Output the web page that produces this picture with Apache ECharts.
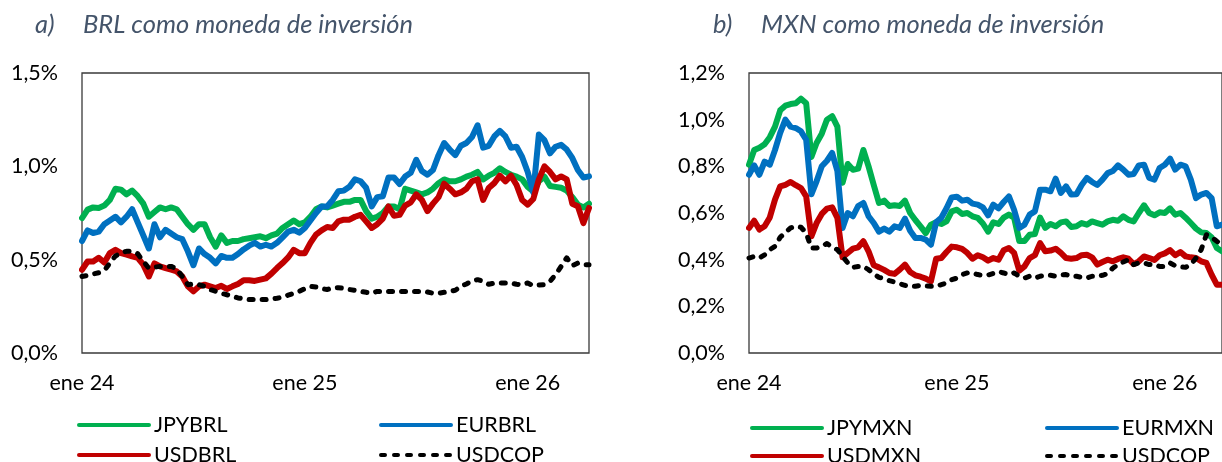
<!DOCTYPE html>
<html><head><meta charset="utf-8">
<script src="https://cdn.jsdelivr.net/npm/echarts@6/dist/echarts.min.js"></script>
<style>html,body{margin:0;padding:0;background:#fff}#c{width:1222px;height:462px}</style>
</head><body><div id="c"></div>
<script>
// Samples are spaced 1/40 of a year apart, starting January 2024.
const stepsPerYear = 40;
const yearLabels = ['ene 24', 'ene 25', 'ene 26'];

// a) BRL como moneda de inversión (%)
const jpybrl = [0.723,0.768,0.78,0.777,0.79,0.82,0.88,0.875,0.85,0.87,
 0.84,0.80,0.73,0.755,0.78,0.77,0.78,0.77,0.73,0.69,
 0.66,0.69,0.69,0.62,0.57,0.63,0.59,0.60,0.60,0.61,
 0.615,0.62,0.625,0.615,0.63,0.64,0.67,0.69,0.71,0.69,
 0.70,0.73,0.77,0.785,0.78,0.79,0.80,0.81,0.81,0.82,
 0.82,0.76,0.72,0.73,0.75,0.785,0.785,0.77,0.88,0.87,
 0.86,0.85,0.86,0.88,0.91,0.93,0.92,0.92,0.93,0.945,
 0.955,0.97,0.93,0.95,0.965,0.99,0.97,0.955,0.945,0.93,
 0.89,0.865,0.92,0.945,0.895,0.89,0.885,0.87,0.835,0.795,
 0.78,0.80];
const eurbrl = [0.60,0.657,0.643,0.65,0.69,0.71,0.73,0.70,0.73,0.77,
 0.70,0.63,0.56,0.69,0.62,0.66,0.64,0.62,0.61,0.545,
 0.47,0.56,0.53,0.51,0.48,0.52,0.51,0.51,0.53,0.555,
 0.575,0.59,0.57,0.58,0.57,0.59,0.62,0.65,0.66,0.645,
 0.67,0.71,0.75,0.785,0.785,0.82,0.866,0.87,0.89,0.93,
 0.92,0.885,0.785,0.835,0.84,0.94,0.94,0.905,0.945,0.965,
 1.035,0.975,0.955,0.98,1.06,1.125,1.09,1.06,1.11,1.125,
 1.157,1.22,1.10,1.11,1.16,1.19,1.16,1.10,1.105,1.05,
 0.97,0.86,1.17,1.14,1.07,1.105,1.115,1.09,1.045,0.98,
 0.94,0.946];
const usdbrl = [0.446,0.49,0.49,0.51,0.485,0.535,0.553,0.535,0.527,0.518,
 0.51,0.473,0.41,0.48,0.464,0.455,0.446,0.437,0.41,0.357,
 0.33,0.357,0.366,0.357,0.348,0.36,0.343,0.357,0.37,0.39,
 0.39,0.386,0.393,0.40,0.425,0.455,0.482,0.512,0.553,0.535,
 0.535,0.59,0.634,0.657,0.675,0.67,0.705,0.714,0.714,0.73,
 0.74,0.705,0.67,0.69,0.72,0.785,0.735,0.74,0.79,0.807,
 0.85,0.82,0.76,0.80,0.835,0.907,0.88,0.85,0.86,0.88,
 0.92,0.93,0.82,0.884,0.91,0.95,0.92,0.95,0.90,0.82,
 0.795,0.825,0.93,1.00,0.97,0.93,0.946,0.93,0.80,0.786,
 0.696,0.777];
const usdcopA = [0.41,0.416,0.423,0.43,0.443,0.48,0.52,0.535,0.545,0.545,
 0.532,0.49,0.455,0.46,0.464,0.464,0.464,0.45,0.41,0.366,
 0.37,0.366,0.357,0.34,0.33,0.32,0.312,0.304,0.295,0.29,
 0.286,0.286,0.286,0.286,0.29,0.293,0.30,0.31,0.32,0.33,
 0.345,0.357,0.354,0.345,0.34,0.348,0.35,0.346,0.34,0.336,
 0.33,0.325,0.32,0.33,0.33,0.33,0.33,0.33,0.33,0.33,
 0.33,0.33,0.327,0.32,0.32,0.325,0.33,0.336,0.357,0.37,
 0.386,0.393,0.384,0.368,0.375,0.375,0.375,0.375,0.368,0.366,
 0.375,0.36,0.364,0.366,0.384,0.42,0.464,0.51,0.468,0.482,
 0.473,0.473];

// b) MXN como moneda de inversión (%)
const jpymxn = [0.807,0.87,0.88,0.895,0.925,0.97,1.04,1.06,1.067,1.07,
 1.09,1.07,0.84,0.90,0.94,1.00,1.015,0.97,0.73,0.81,
 0.785,0.79,0.87,0.80,0.72,0.643,0.653,0.63,0.633,0.63,
 0.653,0.60,0.57,0.543,0.514,0.55,0.56,0.553,0.564,0.607,
 0.614,0.596,0.60,0.586,0.579,0.555,0.52,0.56,0.553,0.58,
 0.593,0.58,0.48,0.48,0.507,0.51,0.58,0.536,0.553,0.543,
 0.56,0.564,0.54,0.543,0.557,0.55,0.564,0.557,0.55,0.564,
 0.571,0.567,0.586,0.571,0.564,0.60,0.633,0.60,0.59,0.603,
 0.60,0.62,0.593,0.60,0.58,0.557,0.533,0.517,0.514,0.496,
 0.45,0.436];
const eurmxn = [0.764,0.804,0.764,0.82,0.807,0.87,0.943,1.0,0.97,0.964,
 0.95,0.914,0.68,0.736,0.80,0.824,0.857,0.78,0.536,0.60,
 0.586,0.63,0.643,0.586,0.557,0.52,0.533,0.52,0.543,0.536,
 0.576,0.524,0.493,0.493,0.486,0.464,0.56,0.58,0.62,0.667,
 0.67,0.653,0.657,0.64,0.636,0.624,0.59,0.636,0.62,0.647,
 0.671,0.614,0.536,0.55,0.593,0.607,0.70,0.70,0.693,0.747,
 0.686,0.714,0.679,0.68,0.72,0.75,0.733,0.72,0.743,0.771,
 0.78,0.804,0.786,0.764,0.767,0.804,0.807,0.75,0.743,0.793,
 0.807,0.833,0.786,0.807,0.80,0.743,0.664,0.679,0.686,0.664,
 0.543,0.55];
const usdmxn = [0.536,0.567,0.529,0.543,0.581,0.657,0.714,0.721,0.733,0.719,
 0.707,0.671,0.50,0.557,0.596,0.619,0.624,0.579,0.41,0.429,
 0.447,0.453,0.479,0.436,0.376,0.367,0.356,0.343,0.339,0.357,
 0.379,0.347,0.333,0.327,0.319,0.307,0.404,0.407,0.433,0.456,
 0.453,0.446,0.429,0.404,0.419,0.41,0.396,0.407,0.40,0.44,
 0.45,0.429,0.353,0.371,0.407,0.419,0.471,0.436,0.439,0.447,
 0.429,0.407,0.404,0.407,0.419,0.421,0.41,0.379,0.39,0.40,
 0.393,0.403,0.41,0.404,0.381,0.393,0.414,0.407,0.399,0.419,
 0.427,0.441,0.419,0.433,0.414,0.41,0.407,0.393,0.386,0.336,
 0.293,0.293];
const usdcopB = [0.407,0.414,0.407,0.421,0.443,0.457,0.496,0.517,0.536,0.543,
 0.539,0.514,0.45,0.45,0.457,0.469,0.453,0.443,0.414,0.386,
 0.367,0.371,0.371,0.357,0.339,0.324,0.319,0.31,0.304,0.297,
 0.29,0.286,0.286,0.29,0.287,0.286,0.286,0.293,0.30,0.314,
 0.321,0.336,0.343,0.343,0.336,0.333,0.334,0.341,0.349,0.343,
 0.336,0.343,0.329,0.321,0.329,0.321,0.329,0.333,0.333,0.329,
 0.334,0.336,0.329,0.329,0.324,0.321,0.329,0.329,0.333,0.34,
 0.364,0.379,0.39,0.40,0.379,0.386,0.386,0.379,0.379,0.371,
 0.371,0.386,0.374,0.369,0.367,0.379,0.407,0.443,0.507,0.496,
 0.479,0.464];

const GREEN = '#00B050', BLUE = '#0070C0', RED = '#C00000', BLACK = '#000000';
const FONT = 'Lato, "Open Sans", sans-serif';
const TITLE_COLOR = '#44546A';
const LABEL_SIZE = 21.5;
const LINE_WIDTH = 6;

const xMax = (jpybrl.length - 1) / stepsPerYear;
const pairs = arr => arr.map((v, i) => [i / stepsPerYear, v]);
const pct = v => v.toFixed(1).replace('.', ',') + '%';

function xAxis(gridIndex) {
  return {
    type: 'value', gridIndex, min: 0, max: xMax, interval: 1,
    axisLine: { show: false }, axisTick: { show: false }, splitLine: { show: false },
    axisLabel: {
      margin: 19, fontSize: LABEL_SIZE, fontFamily: FONT, color: '#000',
      showMaxLabel: false,
      formatter: v => yearLabels[Math.round(v)] || ''
    }
  };
}
function yAxis(gridIndex, max, interval) {
  return {
    type: 'value', gridIndex, min: 0, max, interval,
    axisLine: { show: false }, axisTick: { show: false }, splitLine: { show: false },
    axisLabel: { margin: 24, fontSize: LABEL_SIZE, fontFamily: FONT, color: '#000', formatter: pct }
  };
}
function line(name, data, color, idx, dashed) {
  return {
    name, type: 'line', xAxisIndex: idx, yAxisIndex: idx,
    data: pairs(data), symbol: 'none', showSymbol: false, silent: true, animation: false,
    emphasis: { disabled: true },
    lineStyle: { color, width: dashed ? 5 : LINE_WIDTH, type: dashed ? [4, 9] : 'solid',
                 cap: 'round', join: 'round', opacity: 1 },
    itemStyle: { color }
  };
}
function legendItem(name, left, top) {
  return {
    data: [name], left, top, itemWidth: 70, itemHeight: 14, itemGap: 0,
    selectedMode: false,
    itemStyle: { opacity: 0 },
    lineStyle: { width: 4 },
    textStyle: { fontSize: LABEL_SIZE, fontFamily: FONT, color: '#000' }
  };
}
function titleText(x, label, text) {
  const style = { fontSize: 25.5, fontStyle: 'italic', fontFamily: FONT, fill: TITLE_COLOR, verticalAlign: 'middle' };
  return [
    { type: 'text', x: x, y: 25, style: Object.assign({ text: label }, style) },
    { type: 'text', x: x + 48, y: 25, style: Object.assign({ text }, style) }
  ];
}

const chart = echarts.init(document.getElementById('c'), null, { renderer: 'canvas' });
chart.setOption({
  backgroundColor: '#fff',
  animation: false,
  grid: [
    { left: 82, top: 73, width: 507, height: 280, show: true, borderColor: '#3a3a3a', borderWidth: 1.3 },
    { left: 749, top: 73, width: 474, height: 280, show: true, borderColor: '#3a3a3a', borderWidth: 1.3 }
  ],
  xAxis: [xAxis(0), xAxis(1)],
  yAxis: [yAxis(0, 1.5, 0.5), yAxis(1, 1.2, 0.2)],
  legend: [
    legendItem('JPYBRL', 72, 409), legendItem('EURBRL', 374, 409),
    legendItem('USDBRL', 72, 439), legendItem('USDCOP', 374, 439),
    legendItem('JPYMXN', 745, 412), legendItem('EURMXN', 1040, 412),
    legendItem('USDMXN', 745, 440), legendItem('USDCOP', 1040, 440)
  ],
  graphic: [
    ...titleText(35, 'a)', 'BRL como moneda de inversión'),
    ...titleText(713, 'b)', 'MXN como moneda de inversión')
  ],
  series: [
    line('JPYBRL', jpybrl, GREEN, 0), line('EURBRL', eurbrl, BLUE, 0),
    line('USDBRL', usdbrl, RED, 0), line('USDCOP', usdcopA, BLACK, 0, true),
    line('JPYMXN', jpymxn, GREEN, 1), line('EURMXN', eurmxn, BLUE, 1),
    line('USDMXN', usdmxn, RED, 1), line('USDCOP', usdcopB, BLACK, 1, true)
  ]
});
</script>
</body></html>
